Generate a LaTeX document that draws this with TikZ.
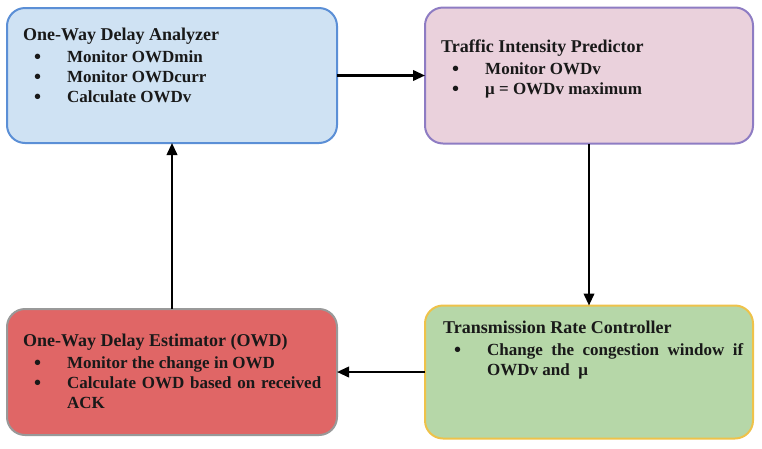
\documentclass[tikz,border=0pt]{standalone}
\usepackage{fontspec}
\setmainfont{Liberation Serif}
\usepackage{xcolor}
\usepackage{tikz}
\usetikzlibrary{positioning,arrows.meta}

\definecolor{analyzerfill}{HTML}{CFE2F3}
\definecolor{analyzerline}{HTML}{5B8FD6}
\definecolor{predictorfill}{HTML}{EAD1DC}
\definecolor{predictorline}{HTML}{8E7CC3}
\definecolor{estimatorfill}{HTML}{E06666}
\definecolor{estimatorline}{HTML}{999999}
\definecolor{controllerfill}{HTML}{B6D7A8}
\definecolor{controllerline}{HTML}{EEC24A}

\hyphenpenalty=10000
\tolerance=9999
\newcommand{\boxhead}[1]{{\fontsize{18}{20}\selectfont #1\par}\vspace{2pt}}
\newcommand{\boxitem}[1]{\par\hangindent=44pt\hangafter=1\noindent\makebox[44pt][l]{\hspace*{11pt}\raisebox{-1pt}{\fontsize{20}{20}\selectfont\textbullet}}#1\par}

\begin{document}
\begin{tikzpicture}[x=1pt, y=-1pt,
  stagebox/.style={draw, rectangle, rounded corners=18pt, line width=2pt, outer sep=0pt},
  stagetext/.style={anchor=north west, inner sep=0pt, text width=298pt, align=justify, text=black!90,
    font=\fontsize{17}{20}\selectfont\bfseries},
  flow/.style={line width=2.2pt, -{Triangle[length=12pt,width=10.5pt]}}]
\useasboundingbox (0,0) rectangle (762,448);

% Stages
\node[stagebox, fill=analyzerfill, draw=analyzerline, minimum width=330pt, minimum height=135pt] (analyzer) at (172,75.5) {};
\node[stagebox, fill=predictorfill, draw=predictorline, minimum width=328pt, minimum height=136pt] (predictor) at (589,75.5) {};
\node[stagebox, fill=controllerfill, draw=controllerline, minimum width=328pt, minimum height=133pt] (controller) at (589,372) {};
\node[stagebox, fill=estimatorfill, draw=estimatorline, minimum width=330pt, minimum height=126pt] (estimator) at (172,372) {};

% Texts
\node[stagetext, below right=19.7pt and 16pt of analyzer.north west] (analyzertext) {%
  \boxhead{One-Way Delay Analyzer}
  \boxitem{Monitor OWDmin}
  \boxitem{Monitor OWDcurr}
  \boxitem{Calculate OWDv}};
\node[stagetext, below right=31.7pt and 16pt of predictor.north west] (predictortext) {%
  \boxhead{Traffic Intensity Predictor}
  \boxitem{Monitor OWDv}
  \boxitem{μ = OWDv maximum}};
\node[stagetext, text width=300pt, below right=15.7pt and 18pt of controller.north west] (controllertext) {%
  \boxhead{Transmission Rate Controller}
  \boxitem{Change the congestion window if OWDv and\ \ μ}};
\node[stagetext, below right=24.7pt and 16pt of estimator.north west] (estimatortext) {%
  \boxhead{One-Way Delay Estimator (OWD)}
  \boxitem{Monitor the change in OWD}
  \boxitem{Calculate OWD based on received ACK}};

% Arrows
\draw[flow] (analyzer) -- (predictor);
\draw[flow] (predictor) -- (controller);
\draw[flow] (controller) -- (estimator);
\draw[flow] (estimator) -- (analyzer);
\end{tikzpicture}
\end{document}
